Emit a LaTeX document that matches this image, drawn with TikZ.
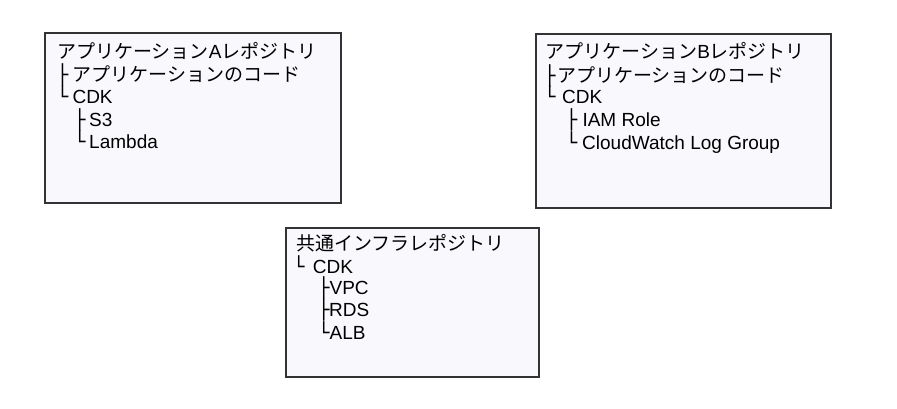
\documentclass[tikz,border=0pt]{standalone}
\usepackage{fontspec}
\setmainfont{Liberation Sans}
\newfontfamily\jpfont{Noto Sans CJK JP}
\newfontfamily\boxfont{DejaVu Sans}
\definecolor{frame}{HTML}{333333}
\definecolor{paper}{HTML}{F9F9FD}
\newcommand{\ja}[1]{{\jpfont #1}}
\newcommand{\branch}[2]{{\boxfont #1}\hspace{#2}}
\tikzset{
  repo/.style={draw=frame, fill=paper, line width=2pt, inner sep=0pt},
  entry/.style={anchor=base west, inner sep=0pt, text=black,
    font=\fontsize{19}{22.8}\selectfont}
}

\begin{document}
\begin{tikzpicture}[x=1pt,y=-1pt]
\useasboundingbox (0,0) rectangle (897,409);

% Application A repository
\node[repo, minimum width=296pt, minimum height=170pt] (repoA) at (193,118) {};
\node[entry] (titleA) at (57,58.5) {\ja{アプリケーション}A\ja{レポジトリ}};
\node[entry] (codeA) at (56.6,82) {\branch{├}{4.3pt}\ja{アプリケーションのコード}};
\node[entry] (cdkA) at (56.6,103.5) {\branch{└}{4.3pt}CDK};
\node[entry] (sthreeA) at (73.8,126.5) {\branch{├}{3.8pt}S3};
\node[entry] (lambdaA) at (73.8,148.5) {\branch{└}{3.8pt}Lambda};

% Application B repository
\node[repo, minimum width=295pt, minimum height=174pt] (repoB) at (683.5,121) {};
\node[entry] (titleB) at (545.5,59) {\ja{アプリケーション}B\ja{レポジトリ}};
\node[entry] (codeB) at (543.8,82.5) {\branch{├}{1.8pt}\ja{アプリケーションのコード}};
\node[entry] (cdkB) at (543.8,104) {\branch{└}{6.8pt}CDK};
\node[entry] (iamB) at (565.6,127) {\branch{├}{5.3pt}IAM Role};
\node[entry] (logB) at (565.6,149.5) {\branch{└}{5pt}CloudWatch Log Group};

% Shared infrastructure repository
\node[repo, minimum width=253pt, minimum height=149pt] (repoC) at (412.5,302.5) {};
\node[entry] (titleC) at (296.3,250) {\ja{共通インフラレポジトリ}};
\node[entry] (cdkC) at (293,273) {\branch{└}{8.3pt}CDK};
\node[entry] (vpcC) at (318,294.7) {\branch{├}{0pt}VPC};
\node[entry] (rdsC) at (318,316.5) {\branch{├}{-0.5pt}RDS};
\node[entry] (albC) at (318,339.5) {\branch{└}{0pt}ALB};

\end{tikzpicture}
\end{document}
